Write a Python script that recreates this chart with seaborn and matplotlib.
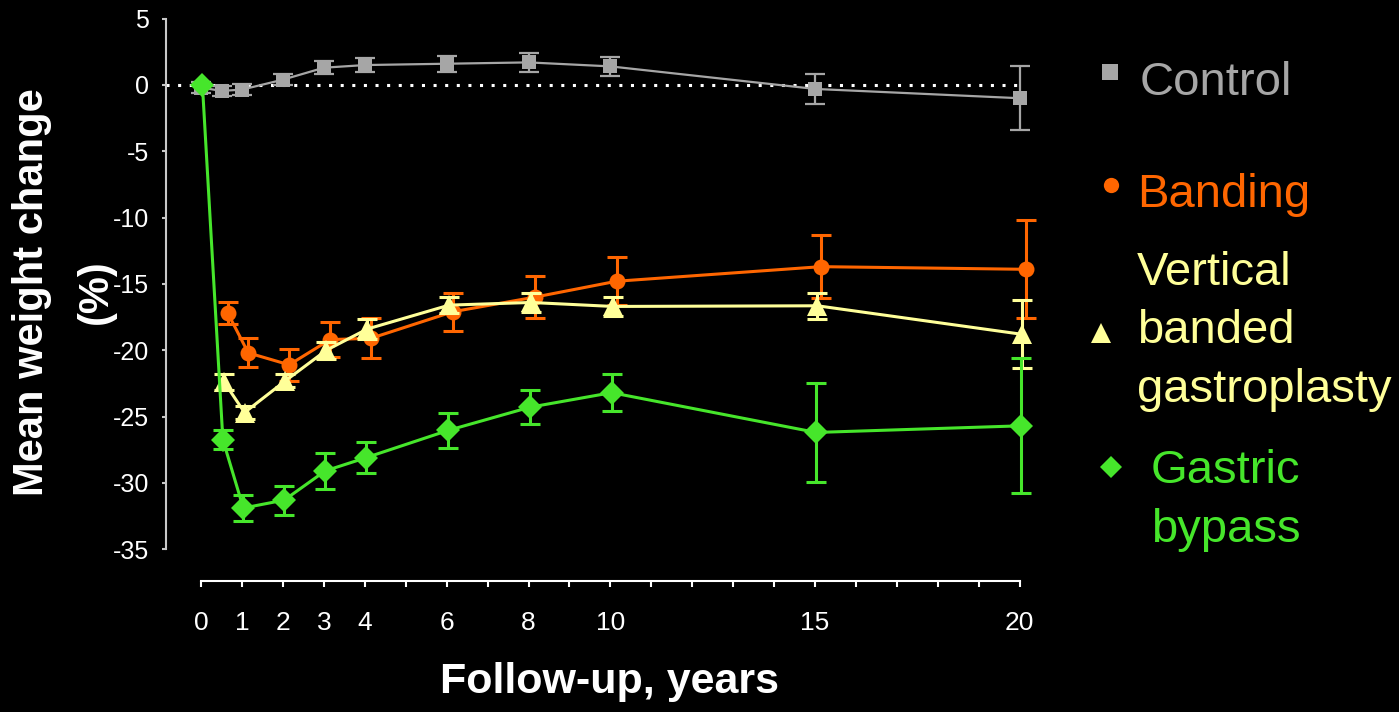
import numpy as np
import pandas as pd
import matplotlib.pyplot as plt
from matplotlib.lines import Line2D
import seaborn as sns

# follow-up years and mean weight change (%) with error bars
control_years = [0, 0.5, 1, 2, 3, 4, 6, 8, 10, 15, 20]
control_mean = [-0.2, -0.45, -0.35, 0.4, 1.3, 1.5, 1.6, 1.7, 1.4, -0.3, -1.0]
control_err = [0.4, 0.4, 0.4, 0.4, 0.5, 0.5, 0.6, 0.7, 0.7, 1.1, 2.4]

banding_years = [0.5, 1, 2, 3, 4, 6, 8, 10, 15, 20]
banding_mean = [-17.2, -20.2, -21.1, -19.2, -19.1, -17.1, -16.0, -14.8, -13.7, -13.9]
banding_err = [0.8, 1.1, 1.2, 1.3, 1.5, 1.45, 1.6, 1.8, 2.4, 3.7]

vbg_years = [0.5, 1, 2, 3, 4, 6, 8, 10, 15, 20]
vbg_mean = [-22.4, -24.7, -22.3, -20.0, -18.4, -16.6, -16.4, -16.7, -16.65, -18.8]
vbg_err = [0.6, 0.5, 0.5, 0.65, 0.75, 0.6, 0.7, 0.7, 1.0, 2.55]

gbp_years = [0, 0.5, 1, 2, 3, 4, 6, 8, 10, 15, 20]
gbp_mean = [0, -26.75, -31.9, -31.3, -29.1, -28.1, -26.05, -24.3, -23.2, -26.2, -25.7]
gbp_err = [0, 0.7, 1.0, 1.1, 1.35, 1.15, 1.3, 1.3, 1.4, 3.7, 5.1]

group_names = ['Control', 'Banding', 'Vertical\nbanded\ngastroplasty', 'Gastric\nbypass']
y_ticks = [5, 0, -5, -10, -15, -20, -25, -30, -35]
x_ticks = list(range(0, 21))
x_labelled = [0, 1, 2, 3, 4, 6, 8, 10, 15, 20]

colors = ['#A6A6A6', '#FF6600', '#FFFF99', '#46E62B']
markers = ['s', 'o', '^', 'D']
msizes = [9.5, 11.5, 14, 12]
lwidths = [1.6, 2.2, 2.2, 2.2]
dodge = [0, 0.15, 0.06, 0.03]

sns.set_theme(style="ticks", rc={
    "figure.facecolor": "black",
    "axes.facecolor": "black",
    "savefig.facecolor": "black",
    "text.color": "white",
    "xtick.color": "white",
    "ytick.color": "#C8C8C8",
    "axes.edgecolor": "white",
})
plt.rcParams['font.family'] = ['Liberation Sans', 'DejaVu Sans']

fig = plt.figure(figsize=(13.99, 7.12), dpi=100)
ax = fig.add_axes([166 / 1399, 1 - 581 / 712, (1040 - 166) / 1399, (581 - 12) / 712])

series = [
    (control_years, control_mean, control_err),
    (banding_years, banding_mean, banding_err),
    (vbg_years, vbg_mean, vbg_err),
    (gbp_years, gbp_mean, gbp_err),
]

# zero reference line
ax.plot([-0.86, 20], [0, 0], color='white', lw=2.2, ls=(0, (1, 2.8)), zorder=1)

for i, (yrs, mean, err) in enumerate(series):
    df = pd.DataFrame({'year': np.array(yrs) + dodge[i], 'change': mean, 'err': err})
    ax.errorbar(df['year'], df['change'], yerr=df['err'], fmt='none',
                ecolor=colors[i], elinewidth=lwidths[i], capsize=7.5,
                capthick=lwidths[i], zorder=2 + i)
    sns.lineplot(data=df, x='year', y='change', ax=ax, color=colors[i],
                 marker=markers[i], markersize=msizes[i], markeredgewidth=0,
                 linewidth=lwidths[i], zorder=3 + i, estimator=None, sort=False)

ax.set_xlim(-0.86, 20.5)
ax.set_ylim(-37.4, 5.5)
ax.set_yticks(y_ticks)
ax.set_yticklabels([str(v) for v in y_ticks])
ax.set_xticks(x_ticks)
ax.set_xticklabels([str(v) if v in x_labelled else '' for v in x_ticks])
ax.tick_params(axis='y', length=3, width=1.5, pad=9, labelsize=18, labelcolor='white')
ax.tick_params(axis='x', length=4.3, width=1.5, pad=17, labelsize=19)

sns.despine(ax=ax)
ax.spines['left'].set_bounds(-35, 5)
ax.spines['left'].set_color('#C8C8C8')
ax.spines['left'].set_linewidth(1.5)
ax.spines['bottom'].set_bounds(0, 20)
ax.spines['bottom'].set_linewidth(1.5)
ax.set_xlabel('')
ax.set_ylabel('')

# multi-line text: baseline alignment refers to the last line
fig.text(83 / 1399, 1 - 292 / 712, 'Mean weight change\n(%)', rotation=90,
         rotation_mode='anchor', ha='center', va='baseline', fontsize=30,
         fontweight='bold', linespacing=1.76, color='white')
fig.text(610 / 1399, 1 - 693 / 712, 'Follow-up, years', ha='center', va='baseline',
         fontsize=31, fontweight='bold', color='white')

# legend drawn on the right like the slide
leg_text_x = [1140, 1137, 1137, 1151]
leg_text_base = [95, 207, 402, 542]
leg_mark_xy = [(1110, 72), (1111, 185), (1101, 333), (1111, 467)]
leg_msize = [11, 11, 15, 11]
for i, name in enumerate(group_names):
    fig.text(leg_text_x[i] / 1399, 1 - leg_text_base[i] / 712, name, ha='left',
             va='baseline', fontsize=34, color=colors[i], linespacing=1.43)
    mx, my = leg_mark_xy[i]
    fig.add_artist(Line2D([mx / 1399], [1 - my / 712], marker=markers[i],
                          markersize=leg_msize[i], color=colors[i],
                          markeredgewidth=0, transform=fig.transFigure))

fig.savefig('out.png', dpi=100, facecolor='black')
